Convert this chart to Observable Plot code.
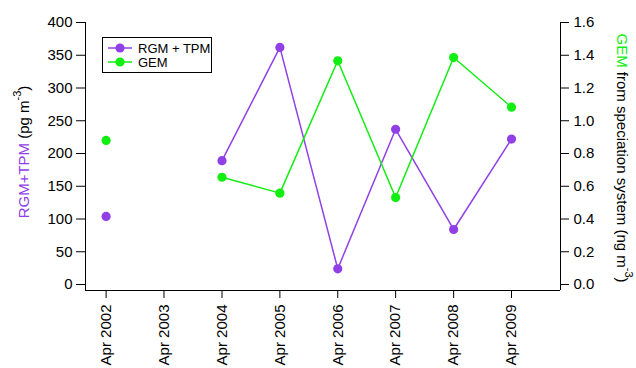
<!DOCTYPE html>
<html>
<head>
<meta charset="utf-8">
<script src="https://cdn.jsdelivr.net/npm/d3@7"></script>
<script src="https://cdn.jsdelivr.net/npm/@observablehq/plot@0.6"></script>
<style>
  html, body { margin: 0; padding: 0; background: #fff; }
  #chart svg { display: block; }
</style>
</head>
<body>
<div id="chart"></div>
<script>
// ---- data ----
const years = [2002, 2003, 2004, 2005, 2006, 2007, 2008, 2009];
const rgmTpm = [104, NaN, 189, 362, 24, 237, 84, 222];      // pg m-3 (left axis)
const gem = [0.88, NaN, 0.655, 0.558, 1.366, 0.531, 1.386, 1.083]; // ng m-3 (right axis)
const leftTicks = [0, 50, 100, 150, 200, 250, 300, 350, 400];
const rightTicks = [0, 0.2, 0.4, 0.6, 0.8, 1.0, 1.2, 1.4, 1.6];
const seriesNames = ["RGM + TPM", "GEM"];

const purple = "#9040E6";
const green = "#11EE11";
const ratio = 400 / 1.6; // right axis mapped to left scale

const dates = years.map(y => new Date(Date.UTC(y, 3, 1)));
const rows = years.map((y, i) => ({date: dates[i], rgm: rgmTpm[i], gem: gem[i] * ratio}));

const xDomain = [new Date(Date.UTC(2001, 10, 22)), new Date(Date.UTC(2010, 1, 4))];
const yMin = -400 * 6 / 262;

const plot = Plot.plot({
  width: 636,
  height: 368,
  marginLeft: 85,
  marginRight: 76,
  marginTop: 22,
  marginBottom: 78,
  style: {fontFamily: "'Liberation Sans', Arial, sans-serif", color: "#000", background: "#fff"},
  x: {type: "utc", domain: xDomain},
  y: {domain: [yMin, 400]},
  marks: [
    // frame lines
    Plot.ruleX([xDomain[0]], {y1: yMin, y2: 400, stroke: "#000", strokeWidth: 1}),
    Plot.ruleX([xDomain[1]], {y1: yMin, y2: 400, stroke: "#000", strokeWidth: 1}),
    Plot.ruleY([yMin], {x1: xDomain[0], x2: xDomain[1], stroke: "#000", strokeWidth: 1}),
    // axes
    Plot.axisY(leftTicks, {anchor: "left", tickSize: 9, tickPadding: 4, fontSize: 15, label: null, stroke: "#000"}),
    Plot.axisY(rightTicks.map(v => v * ratio), {anchor: "right", tickSize: 8, tickPadding: 5, fontSize: 15, label: null,
      tickFormat: d => (d / ratio).toFixed(1)}),
    Plot.axisX(dates, {anchor: "bottom", tickSize: 8, tickPadding: 6, tickRotate: -90, fontSize: 15, label: null,
      tickFormat: d3.utcFormat("%b %Y")}),
    // series
    Plot.line(rows, {x: "date", y: "rgm", stroke: purple, strokeWidth: 1.5}),
    Plot.dot(rows, {x: "date", y: "rgm", fill: purple, r: 4.6}),
    Plot.line(rows, {x: "date", y: "gem", stroke: green, strokeWidth: 1.5}),
    Plot.dot(rows, {x: "date", y: "gem", fill: green, r: 4.6})
  ]
});

document.getElementById("chart").appendChild(plot);

// ---- titles and legend ----
const svg = d3.select(plot);
const font = "'Liberation Sans', Arial, sans-serif";

// left title
const lt = svg.append("text")
  .attr("transform", "translate(29,152) rotate(-90)")
  .attr("text-anchor", "middle")
  .attr("font-family", font).attr("font-size", 15).attr("fill", "#000");
lt.append("tspan").attr("fill", purple).text("RGM+TPM");
lt.append("tspan").text(" (pg m");
lt.append("tspan").attr("font-size", 11).attr("dy", -8).text("-3");
lt.append("tspan").attr("dy", 8).text(")");

// right title
const rt = svg.append("text")
  .attr("transform", "translate(617,158) rotate(90)")
  .attr("text-anchor", "middle")
  .attr("font-family", font).attr("font-size", 15).attr("fill", "#000");
rt.append("tspan").attr("fill", green).text("GEM");
rt.append("tspan").text(" from speciation system (ng m");
rt.append("tspan").attr("font-size", 11).attr("dy", -8).text("-3");
rt.append("tspan").attr("dy", 8).text(")");

// legend
const lg = svg.append("g").attr("font-family", font).attr("font-size", 13).attr("text-anchor", "start");
lg.append("rect").attr("x", 102.5).attr("y", 37.5).attr("width", 109).attr("height", 35)
  .attr("fill", "#fff").attr("stroke", "#000").attr("stroke-width", 1);
[purple, green].forEach((c, i) => {
  const y = 48 + i * 14;
  lg.append("line").attr("x1", 108).attr("x2", 132).attr("y1", y).attr("y2", y)
    .attr("stroke", c).attr("stroke-width", 1.5);
  lg.append("circle").attr("cx", 120).attr("cy", y).attr("r", 4.6).attr("fill", c);
  lg.append("text").attr("x", 138).attr("y", y + 4.5).attr("text-anchor", "start")
    .attr("fill", "#000").text(seriesNames[i]);
});
</script>
</body>
</html>
